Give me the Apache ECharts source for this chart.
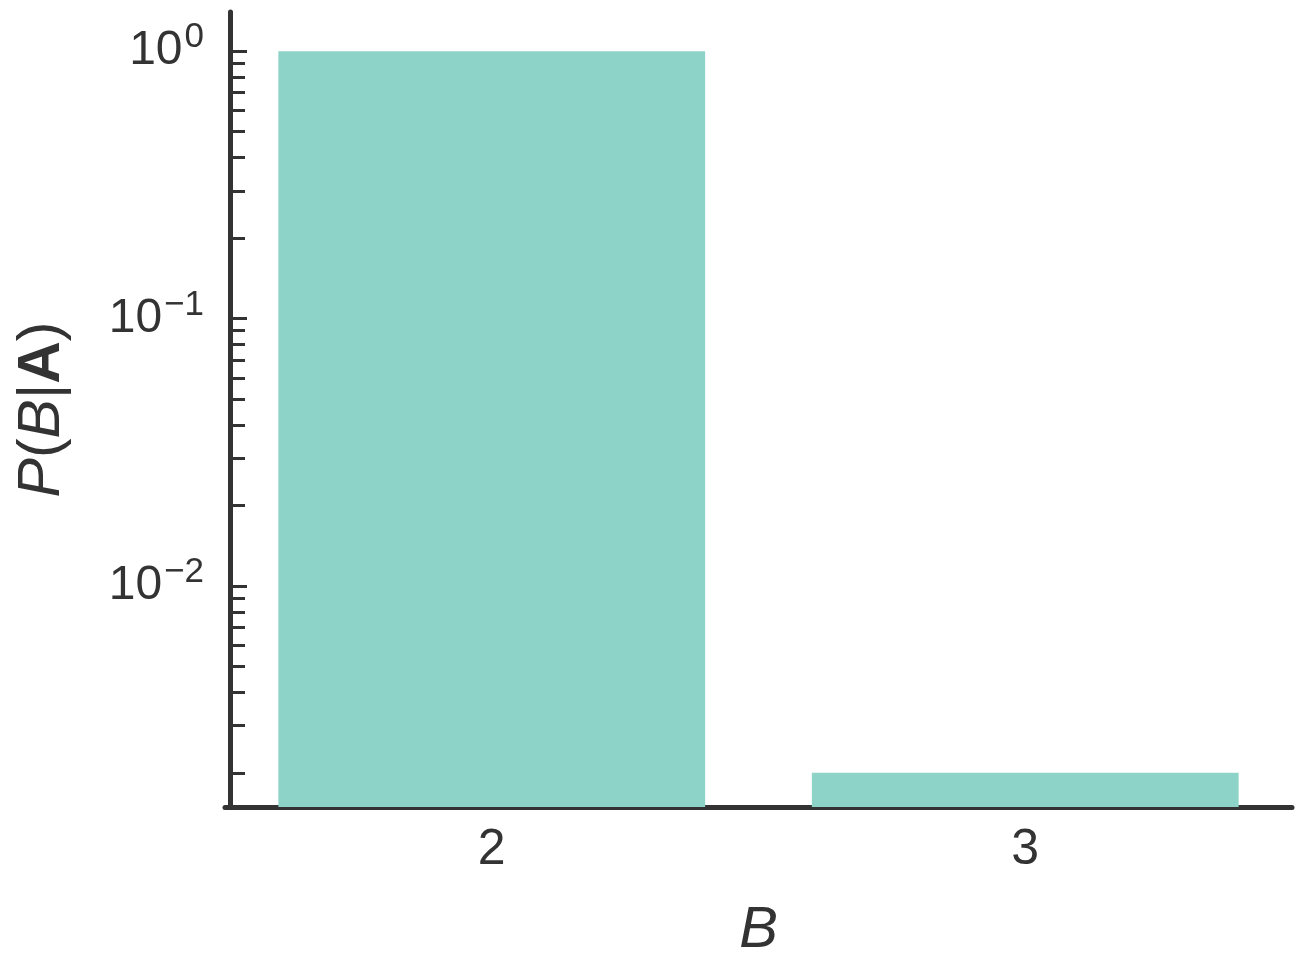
<!DOCTYPE html>
<html>
<head>
<meta charset="utf-8">
<script src="https://cdn.jsdelivr.net/npm/echarts@6/dist/echarts.min.js"></script>
<style>
  html, body { margin: 0; padding: 0; background: #fff; }
  #chart { width: 1302px; height: 977px; }
</style>
</head>
<body>
<div id="chart"></div>
<script>
  // data
  var categories = ['2', '3'];
  var probs = [0.998, 0.002];
  var yMin = 0.00149;
  var yMax = 1.40;
  var majorTicks = [0.01, 0.1, 1];
  var minorTicks = [0.002, 0.003, 0.004, 0.005, 0.006, 0.007, 0.008, 0.009,
                    0.02, 0.03, 0.04, 0.05, 0.06, 0.07, 0.08, 0.09,
                    0.2, 0.3, 0.4, 0.5, 0.6, 0.7, 0.8, 0.9];

  var ink = '#333333';
  var font = '"Liberation Sans", Arial, sans-serif';

  var chart = echarts.init(document.getElementById('chart'));

  var option = {
    animation: false,
    grid: { left: 225, right: 10, top: 12, bottom: 170, containLabel: false },
    xAxis: {
      type: 'category',
      data: categories,
      name: 'B',
      nameLocation: 'middle',
      nameGap: 95,
      nameTextStyle: { color: ink, fontFamily: font, fontSize: 58, fontStyle: 'italic' },
      axisLine: { lineStyle: { color: ink, width: 5 } },
      axisTick: { show: false },
      axisLabel: { color: ink, fontFamily: font, fontSize: 50, margin: 18 },
      splitLine: { show: false }
    },
    yAxis: [{
      type: 'log',
      min: yMin,
      max: yMax,
      startValue: yMin,
      offset: -5,
      name: '{i|P}{n|(}{i|B}{n||}{b|A}{n|)}',
      nameLocation: 'middle',
      nameGap: 158,
      nameRotate: 90,
      nameTextStyle: {
        color: ink, fontFamily: font, fontSize: 59,
        rich: {
          i: { fontStyle: 'italic', fontSize: 59, fontFamily: font, color: ink },
          n: { fontSize: 59, fontFamily: font, color: ink },
          b: { fontWeight: 'bold', fontSize: 59, fontFamily: font, color: ink }
        }
      },
      axisLine: { show: true, lineStyle: { color: ink, width: 5 } },
      axisTick: {
        show: true, inside: true, length: 17,
        lineStyle: { color: ink, width: 3 },
        customValues: majorTicks
      },
      minorTick: { show: false },
      axisLabel: {
        color: ink, fontFamily: font, fontSize: 48, margin: 26,
        customValues: majorTicks,
        formatter: function (v) {
          var e = Math.round(Math.log10(v));
          var s = e < 0 ? '\u2212' + (-e) : '' + e;
          return '{b|10}{s|' + s + '}';
        },
        rich: {
          b: { fontSize: 48, fontFamily: font, color: ink, lineHeight: 62 },
          s: { fontSize: 35, fontFamily: font, color: ink, lineHeight: 35, padding: [0, 0, 27, 2] }
        }
      },
      splitLine: { show: false }
    }, {
      type: 'log',
      min: yMin,
      max: yMax,
      position: 'left',
      offset: -5,
      axisLine: { show: false },
      axisTick: {
        show: true, inside: true, length: 15,
        lineStyle: { color: ink, width: 3 },
        customValues: minorTicks
      },
      axisLabel: { show: false },
      splitLine: { show: false }
    }],
    series: [{
      type: 'bar',
      yAxisIndex: 0,
      data: probs,
      barCategoryGap: '20%',
      itemStyle: { color: '#8ed3c7' }
    }]
  };

  chart.setOption(option);
</script>
</body>
</html>
